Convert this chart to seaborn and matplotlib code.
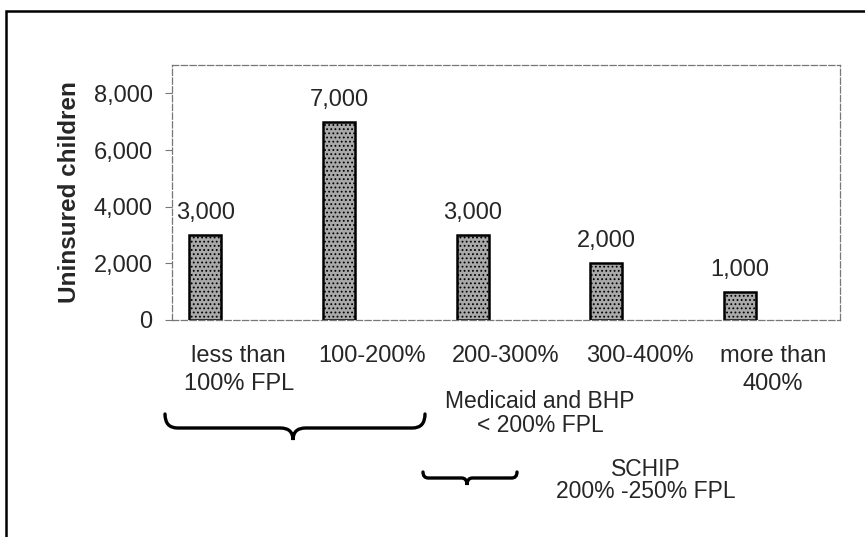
import numpy as np
import pandas as pd
import matplotlib
matplotlib.use("Agg")
import matplotlib.pyplot as plt
import seaborn as sns
from matplotlib.path import Path
from matplotlib.patches import PathPatch, Rectangle
from matplotlib.transforms import Affine2D

# datos del grafico
categorias = ["less than\n100% FPL", "100-200%", "200-300%", "300-400%", "more than\n400%"]
ninos_sin_seguro = [3000, 7000, 3000, 2000, 1000]
y_ticks = [0, 2000, 4000, 6000, 8000]

# segunda serie vacia (el grafico original deja un hueco a la derecha de cada barra)
df = pd.DataFrame({
    "cat": categorias * 2,
    "valor": ninos_sin_seguro + [np.nan] * len(categorias),
    "serie": ["uninsured"] * len(categorias) + ["blank"] * len(categorias),
})

sns.set_theme(style="white")
plt.rcParams["font.family"] = ["Liberation Sans", "DejaVu Sans"]
plt.rcParams["hatch.linewidth"] = 0.8

W, H = 865, 537
fs = 17
fig = plt.figure(figsize=(W / 100, H / 100), dpi=100)
ax = fig.add_axes([172 / W, 1 - 320 / H, (840 - 172) / W, (320 - 65) / H])

sns.barplot(data=df, x="cat", y="valor", hue="serie", hue_order=["uninsured", "blank"],
            order=categorias, palette={"uninsured": "#a9a9a9", "blank": "#a9a9a9"},
            width=1.0, gap=0.52, dodge=True, legend=False, errorbar=None,
            edgecolor="black", linewidth=1.8, ax=ax)

for p in ax.containers[0]:
    p.set_hatch("....")

ax.bar_label(ax.containers[0], labels=[f"{v:,}" for v in ninos_sin_seguro],
             padding=8, fontsize=fs)

ax.set_ylim(0, 9000)
ax.set_xlim(-0.5, len(categorias) - 0.5)
ax.set_yticks(y_ticks)
ax.set_yticklabels([f"{v:,}" for v in y_ticks], fontsize=fs)
ax.set_xticks(range(len(categorias)))
ax.set_xticklabels(categorias, fontsize=fs, linespacing=1.35)
ax.set_xticks(np.arange(0.5, len(categorias) - 0.5, 1), minor=True)
ax.tick_params(axis="x", which="major", length=0, pad=18)
ax.tick_params(axis="x", which="minor", length=5, width=0.8, color="#777777", direction="out")
ax.tick_params(axis="y", length=5, width=0.8, color="#777777", direction="out", pad=9, left=True)
ax.set_xlabel("")
ax.set_ylabel("Uninsured children", fontsize=17.5, fontweight="bold", labelpad=9)

for s in ax.spines.values():
    s.set_visible(True)
    s.set_linestyle((0, (5, 2)))
    s.set_linewidth(0.9)
    s.set_color("#777777")

# transformacion en pixeles de la imagen (origen arriba a la izquierda)
px = Affine2D().scale(1 / W, -1 / H).translate(0, 1) + fig.transFigure


def llave(x0, x1, xt, y_fin, y_med, y_pico):
    r = (y_med - y_fin) * 0.9
    verts = [(x0, y_fin), (x0, y_med), (x0 + r, y_med),
             (xt - r, y_med),
             (xt, y_med), (xt, y_pico),
             (xt, y_med), (xt + r, y_med),
             (x1 - r, y_med),
             (x1, y_med), (x1, y_fin)]
    codes = [Path.MOVETO, Path.CURVE3, Path.CURVE3,
             Path.LINETO,
             Path.CURVE3, Path.CURVE3,
             Path.CURVE3, Path.CURVE3,
             Path.LINETO,
             Path.CURVE3, Path.CURVE3]
    fig.patches.append(PathPatch(Path(verts, codes), transform=px, fill=False,
                                 lw=2.4, edgecolor="black", capstyle="round"))


llave(165, 425, 293, 414, 428, 440)
llave(423, 517, 467, 472, 478, 485)

fig.text(540 / W, 1 - 402 / H, "Medicaid and BHP", ha="center", va="center", fontsize=16.5)
fig.text(540 / W, 1 - 425 / H, "< 200% FPL", ha="center", va="center", fontsize=16.5)
fig.text(646 / W, 1 - 470 / H, "SCHIP", ha="center", va="center", fontsize=16.5)
fig.text(646 / W, 1 - 491 / H, "200% -250% FPL", ha="center", va="center", fontsize=16.5)

# marco exterior
fig.patches.append(Rectangle((6 / W, -0.1), 1.2, 1.1 - 11 / H, transform=fig.transFigure,
                             fill=False, edgecolor="black", lw=1.8))

fig.savefig("out.png", dpi=100)
